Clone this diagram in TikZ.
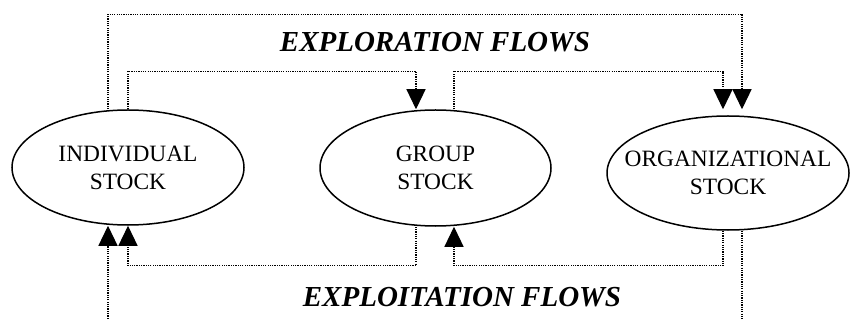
\documentclass[tikz,border=0pt]{standalone}
\usepackage{fontspec}
\setmainfont{Liberation Serif}
\usetikzlibrary{shapes.geometric}
\usetikzlibrary{arrows.meta}

\begin{document}
\begin{tikzpicture}[x=1pt, y=-1pt,
    stock/.style={draw, ellipse, line width=1.5pt, inner sep=0pt, align=center,
        font=\fontsize{23.4}{28}\selectfont},
    flow/.style={line width=1.2pt, dash pattern=on 1.2pt off 1.1pt, -{Triangle[length=20pt,width=19pt]}},
    title/.style={font=\fontsize{29}{34}\selectfont\bfseries\itshape}]
    \useasboundingbox (0,0) rectangle (850,320);
    \clip (0,0) rectangle (850,320);

    \node[stock, minimum width=232pt, minimum height=115pt] (ind) at (128,167.5) {INDIVIDUAL\\STOCK};
    \node[stock, minimum width=231pt, minimum height=116pt] (grp) at (435.5,168) {GROUP\\STOCK};
    \node[stock, inner xsep=-20pt, minimum width=242pt, minimum height=114pt] (org) at (728,173) {ORGANIZATIONAL\\STOCK};

    \node[title] (explore) at (435,42) {EXPLORATION FLOWS};
    \node[title] (exploit) at (462,297) {EXPLOITATION FLOWS};

    % exploration
    \draw[flow, shorten >=6pt] ([xshift=-20pt]ind.north) -- ++(0,-95) -| ([xshift=14pt]org.north);
    \draw[flow] (ind.north) -- ++(0,-38) -| ([xshift=-19.5pt]grp.north);
    \draw[flow, shorten >=6pt] ([xshift=18.5pt]grp.north) -- ++(0,-38) -| ([xshift=-5pt]org.north);

    % exploitation
    \draw[flow] ([xshift=-19.5pt]grp.south) -- ++(0,39) -| (ind.south);
    \draw[flow] ([xshift=-5pt]org.south) -- ++(0,35) -| ([xshift=18.5pt]grp.south);
    \draw[flow] ([xshift=14pt]org.south) -- ++(0,110) -| ([xshift=-20pt]ind.south);
\end{tikzpicture}
\end{document}
